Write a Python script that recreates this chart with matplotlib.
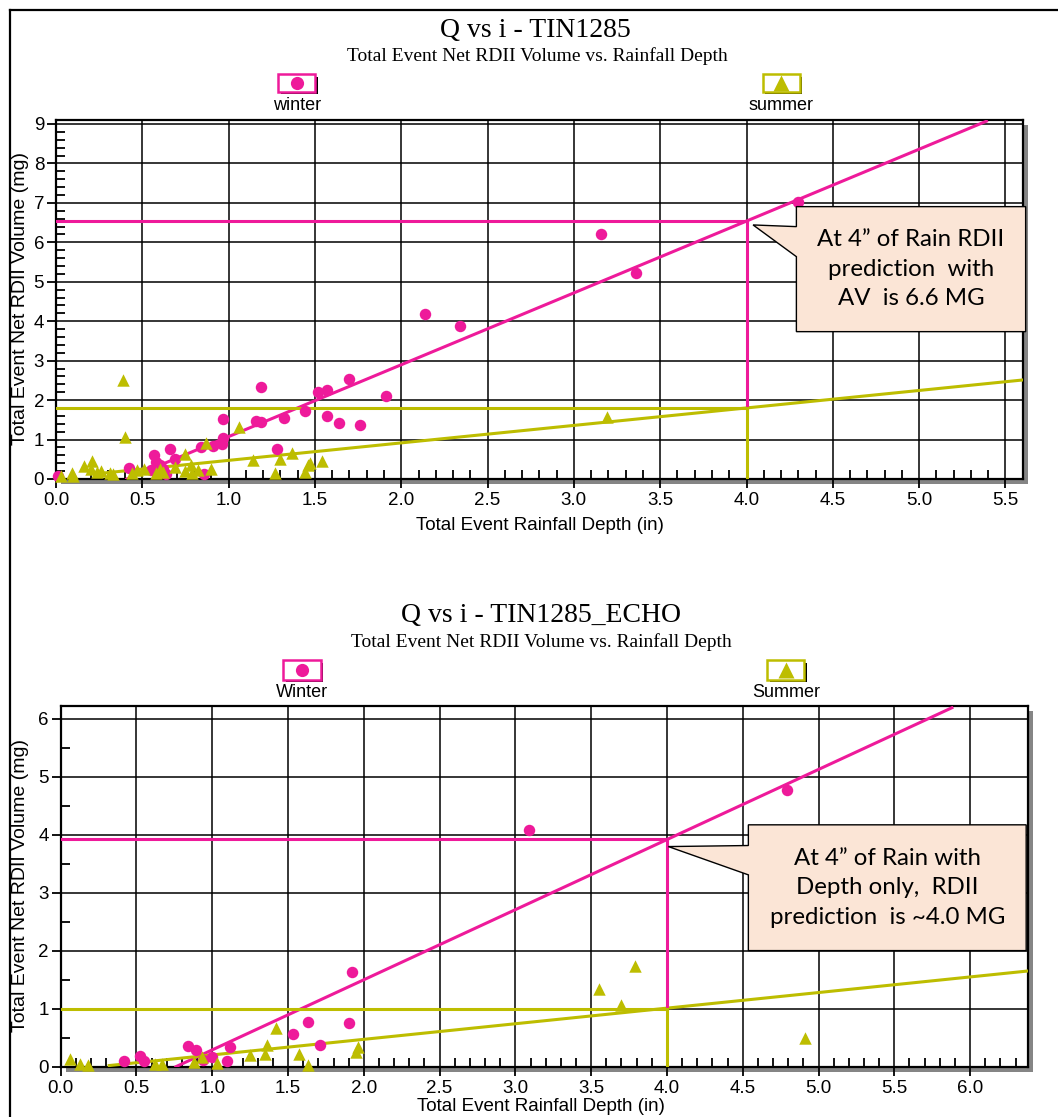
import numpy as np
import matplotlib
matplotlib.use('Agg')
import matplotlib.pyplot as plt
from matplotlib.patches import Rectangle, Polygon
from matplotlib.lines import Line2D
from matplotlib.ticker import MultipleLocator

W, H = 1058, 1117
PINK = '#EE1A9A'
OLIVE = '#BDBD00'
PEACH = '#FBE5D6'
SANS = 'Liberation Sans'
SERIF = 'Liberation Serif'

# ---- top chart: TIN1285 ----
top_winter_x = [0.01, 0.42, 0.55, 0.57, 0.58, 0.60, 0.62, 0.64, 0.66, 0.69,
                0.84, 0.86, 0.91, 0.96, 0.97, 0.97, 1.16, 1.19, 1.19, 1.28,
                1.32, 1.44, 1.52, 1.57, 1.57, 1.64, 1.70, 1.76, 1.91, 2.14,
                2.34, 3.16, 3.36, 4.30]
top_winter_y = [0.07, 0.28, 0.22, 0.60, 0.42, 0.35, 0.25, 0.12, 0.75, 0.50,
                0.81, 0.12, 0.84, 0.88, 1.05, 1.53, 1.48, 1.45, 2.33, 0.77,
                1.55, 1.73, 2.20, 2.26, 1.59, 1.42, 2.53, 1.38, 2.11, 4.19,
                3.87, 6.22, 5.22, 7.02]
top_summer_x = [0.03, 0.09, 0.10, 0.16, 0.20, 0.21, 0.24, 0.26, 0.31, 0.33,
                0.39, 0.40, 0.44, 0.47, 0.51, 0.58, 0.60, 0.62, 0.69, 0.75,
                0.75, 0.78, 0.79, 0.82, 0.87, 0.90, 1.06, 1.14, 1.27, 1.30,
                1.37, 1.44, 1.46, 1.47, 1.54, 3.19]
top_summer_y = [0.07, 0.15, 0.08, 0.33, 0.25, 0.45, 0.18, 0.20, 0.15, 0.12,
                2.50, 1.07, 0.16, 0.22, 0.25, 0.16, 0.25, 0.19, 0.30, 0.63,
                0.20, 0.35, 0.14, 0.24, 0.90, 0.25, 1.33, 0.49, 0.14, 0.51,
                0.66, 0.18, 0.35, 0.40, 0.45, 1.58]
# fitted lines (end points)
top_winter_fit_x = [0.41, 5.39]
top_winter_fit_y = [0.0, 9.07]
top_summer_fit_x = [0.25, 5.6]
top_summer_fit_y = [0.14, 2.51]
top_rain = 4.0
top_winter_at_rain = 6.55
top_summer_at_rain = 1.80

# ---- bottom chart: TIN1285_ECHO ----
bot_winter_x = [0.42, 0.52, 0.55, 0.84, 0.89, 0.94, 1.00, 1.10, 1.12, 1.53,
                1.63, 1.71, 1.90, 1.92, 3.09, 4.79]
bot_winter_y = [0.10, 0.19, 0.10, 0.36, 0.29, 0.12, 0.17, 0.10, 0.34, 0.57,
                0.77, 0.37, 0.76, 1.64, 4.08, 4.78]
bot_summer_x = [0.06, 0.13, 0.18, 0.62, 0.67, 0.88, 0.93, 1.03, 1.25, 1.35,
                1.36, 1.42, 1.57, 1.63, 1.95, 1.96, 3.55, 3.70, 3.79, 4.91]
bot_summer_y = [0.13, 0.05, 0.03, 0.05, 0.05, 0.08, 0.17, 0.07, 0.20, 0.22,
                0.38, 0.66, 0.22, 0.03, 0.26, 0.34, 1.34, 1.06, 1.74, 0.49]
bot_winter_fit_x = [0.76, 5.88]
bot_winter_fit_y = [0.0, 6.19]
bot_summer_fit_x = [0.32, 6.38]
bot_summer_fit_y = [0.02, 1.65]
bot_rain = 4.0
bot_winter_at_rain = 3.93
bot_summer_at_rain = 1.0


def fxy(x, y):
    return x / W, 1 - y / H


def add_rect_px(fig, x0, y0, x1, y1, **kw):
    fx0, fy1 = fxy(x0, y1)
    r = Rectangle((fx0, fy1), (x1 - x0) / W, (y1 - y0) / H,
                  transform=fig.transFigure, **kw)
    fig.add_artist(r)
    return r


def fig_text(fig, x, y, s, **kw):
    fx, fy = fxy(x, y)
    fig.text(fx, fy, s, **kw)


def legend_box(fig, x0, y0, x1, y1, color, marker, label, label_y):
    add_rect_px(fig, x0 + 2.5, y0 + 2.5, x1 + 2.5, y1 + 2.5, facecolor='black',
                edgecolor='none', zorder=5)
    add_rect_px(fig, x0, y0, x1, y1, facecolor='white', edgecolor=color,
                lw=1.8, zorder=6)
    cx, cy = fxy((x0 + x1) / 2, (y0 + y1) / 2)
    fig.add_artist(Line2D([cx], [cy], marker=marker, color=color,
                          ms=9.5 if marker == 'o' else 11,
                          mec='none', transform=fig.transFigure, zorder=7))
    fig_text(fig, (x0 + x1) / 2, label_y, label, ha='center', va='baseline',
             fontsize=13, family=SANS)


def make_axes(fig, left, top, right, bottom, xmax, ymax, ymin_step):
    ax = fig.add_axes([left / W, 1 - bottom / H, (right - left) / W, (bottom - top) / H])
    # drop shadow
    add_rect_px(fig, left + 5, top + 5, right + 5, bottom + 5, facecolor='#858585',
                edgecolor='none', zorder=-1)
    ax.set_xlim(0, xmax)
    ax.set_ylim(0, ymax)
    ax.xaxis.set_major_locator(MultipleLocator(0.5))
    ax.xaxis.set_minor_locator(MultipleLocator(0.1))
    ax.yaxis.set_major_locator(MultipleLocator(1))
    ax.yaxis.set_minor_locator(MultipleLocator(ymin_step))
    ax.xaxis.set_major_formatter(plt.FormatStrFormatter('%.1f'))
    ax.grid(which='major', color='black', lw=1.1)
    ax.set_axisbelow(True)
    for s in ax.spines.values():
        s.set_linewidth(1.6)
    ax.tick_params(which='major', direction='out', length=6.5, width=1.3,
                   labelsize=13.5, pad=2)
    ax.tick_params(axis='x', which='major', pad=3)
    ax.tick_params(which='minor', direction='in', length=6.5, width=1.3)
    for lab in ax.get_xticklabels() + ax.get_yticklabels():
        lab.set_family(SANS)
    return ax


def draw_series(ax, wx, wy, sx, sy, wfx, wfy, sfx, sfy, rain, w_at, s_at):
    ax.plot(wfx, wfy, color=PINK, lw=2.2, zorder=3)
    ax.plot(sfx, sfy, color=OLIVE, lw=2.2, zorder=3)
    ax.plot([0, rain], [w_at, w_at], color=PINK, lw=2.2, zorder=3)
    ax.plot([rain, rain], [s_at, w_at], color=PINK, lw=2.2, zorder=3)
    ax.plot([0, rain], [s_at, s_at], color=OLIVE, lw=2.2, zorder=3)
    ax.plot([rain, rain], [0, s_at], color=OLIVE, lw=2.2, zorder=3)
    ax.scatter(wx, wy, s=68, color=PINK, marker='o', linewidths=0, zorder=4, clip_on=False)
    ax.scatter(sx, sy, s=80, color=OLIVE, marker='^', linewidths=0, zorder=4, clip_on=False)


def callout(ax, box, attach, tip, text):
    x0, x1, yb, yt = box
    up, lo = attach
    pts = [(x0, yt), (x1, yt), (x1, yb), (x0, yb), (x0, lo), tip, (x0, up)]
    ax.add_patch(Polygon(pts, closed=True, facecolor=PEACH, edgecolor='black',
                         lw=1.0, zorder=6, clip_on=False))
    ax.text((x0 + x1) / 2, (yb + yt) / 2, text, ha='center', va='center',
            fontsize=17.3, family='Lato', linespacing=1.5, zorder=7)


fig = plt.figure(figsize=(W / 100, H / 100), dpi=100)

# outer frame of the screenshot
fig.add_artist(Line2D([10 / W, 1], [1 - 10 / H, 1 - 10 / H], color='black', lw=1.6,
                      transform=fig.transFigure))
fig.add_artist(Line2D([10 / W, 10 / W], [1 - 10 / H, 0], color='black', lw=1.6,
                      transform=fig.transFigure))

# ---- top ----
fig_text(fig, 535, 36.7, 'Q vs i - TIN1285', ha='center', va='baseline',
         fontsize=20, family=SERIF)
fig_text(fig, 537, 60.7, 'Total Event Net RDII Volume vs. Rainfall Depth',
         ha='center', va='baseline', fontsize=14, family=SERIF)
legend_box(fig, 278.3, 74, 315, 91.7, PINK, 'o', 'winter', 110)
legend_box(fig, 762.5, 74, 799.5, 91.7, OLIVE, '^', 'summer', 110)

ax1 = make_axes(fig, 56, 120, 1022.7, 479, 5.6, 9.1, 0.2)
draw_series(ax1, top_winter_x, top_winter_y, top_summer_x, top_summer_y,
            top_winter_fit_x, top_winter_fit_y, top_summer_fit_x, top_summer_fit_y,
            top_rain, top_winter_at_rain, top_summer_at_rain)
callout(ax1, (4.289, 5.617, 3.735, 6.904), (6.397, 5.636), (4.038, 6.44),
        'At 4\u201d of Rain RDII\nprediction  with\nAV  is 6.6 MG')
fig_text(fig, 540, 530, 'Total Event Rainfall Depth (in)', ha='center',
         va='baseline', fontsize=13.5, family=SANS)
fig_text(fig, 21, 298, 'Total Event Net RDII Volume (mg)', ha='center',
         va='center', rotation=90, fontsize=14, family=SANS)

# ---- bottom ----
fig_text(fig, 541, 622, 'Q vs i - TIN1285_ECHO', ha='center', va='baseline',
         fontsize=20, family=SERIF)
fig_text(fig, 541, 647, 'Total Event Net RDII Volume vs. Rainfall Depth',
         ha='center', va='baseline', fontsize=14, family=SERIF)
legend_box(fig, 283.3, 660, 320.7, 679.5, PINK, 'o', 'Winter', 697)
legend_box(fig, 767.3, 660, 804.3, 679.5, OLIVE, '^', 'Summer', 697)

ax2 = make_axes(fig, 60.7, 706, 1027.7, 1066.7, 6.38, 6.22, 0.5)
draw_series(ax2, bot_winter_x, bot_winter_y, bot_summer_x, bot_summer_y,
            bot_winter_fit_x, bot_winter_fit_y, bot_summer_fit_x, bot_summer_fit_y,
            bot_rain, bot_winter_at_rain, bot_summer_at_rain)
callout(ax2, (4.537, 6.370, 2.002, 4.171), (3.814, 3.308), (4.009, 3.796),
        'At 4\u201d of Rain with\nDepth only,  RDII\nprediction  is ~4.0 MG')
fig_text(fig, 541, 1111, 'Total Event Rainfall Depth (in)', ha='center',
         va='baseline', fontsize=13.5, family=SANS)
fig_text(fig, 21, 886, 'Total Event Net RDII Volume (mg)', ha='center',
         va='center', rotation=90, fontsize=14, family=SANS)

fig.savefig('out.png', dpi=100)
